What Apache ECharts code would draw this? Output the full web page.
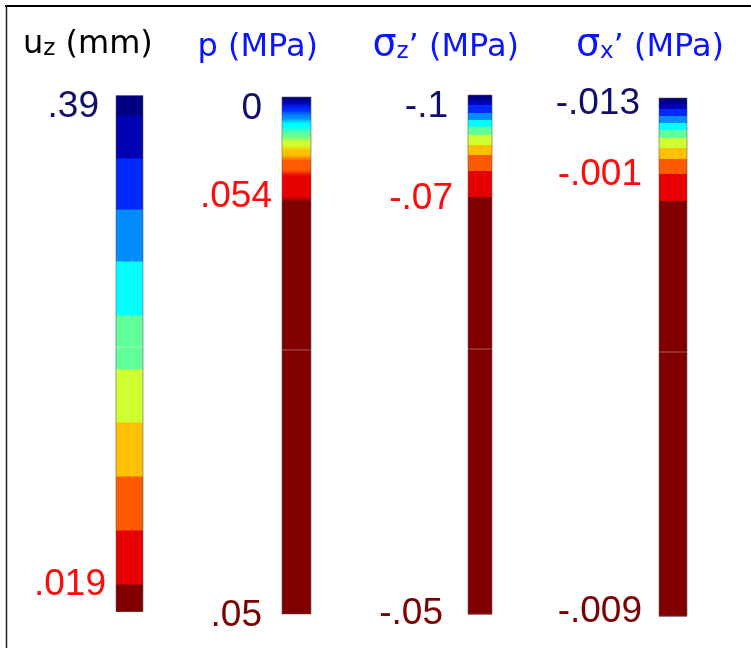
<!DOCTYPE html>
<html><head><meta charset="utf-8">
<script src="https://cdn.jsdelivr.net/npm/echarts@6/dist/echarts.min.js"></script>
<style>html,body{margin:0;padding:0;background:#fff}#c{width:751px;height:648px}</style>
</head><body><div id="c"></div><script>
// ---- data ----
const bandColors = ['#000080','#0000b4','#0028ff','#008cff','#00ffff','#60ff98','#d0ff30','#ffc000','#ff5a00','#e80000','#800000'];
// colour-band heights along each bar (top -> bottom)
const uzBands = [20,43,51,52,54,54,53,54,54,54,27];
const pBands  = [4,4,8,8,9,9,9,10,15,26,415];
const szBands = [5,5,8,7,7,8,10,10,16,26,417];
const sxBands = [6,5,7,7,7,8,10,11,15,27,415];
// tick labels and where they sit along each bar
const uzTickText = ['.39','.019'];
const uzTickPos  = [11.5, 489.5];
const uzTickTone = ['top','mid'];
const pTickText  = ['0','.054','.05'];
const pTickPos   = [12, 100, 519];
const pTickTone  = ['top','mid','bot'];
const szTickText = ['-.1','-.07','-.05'];
const szTickPos  = [12, 103.5, 519];
const szTickTone = ['top','mid','bot'];
const sxTickText = ['-.013','-.001','-.009'];
const sxTickPos  = [5.5, 77, 514];
const sxTickTone = ['top','mid','bot'];
// faint seams across the bars
const seamPos = [251.5, 253, 254, 254];

// ---- styles / layout ----
const toneColor = {top:'#10106c', mid:'#ff0b0b', bot:'#7b0000'};
const bars = [
  {bands:uzBands, text:uzTickText, pos:uzTickPos, tone:uzTickTone, gaps:[17,10],    grid:{left:116, top:95.5, width:27, height:516}, smooth:false},
  {bands:pBands,  text:pTickText,  pos:pTickPos,  tone:pTickTone,  gaps:[20,10,20], grid:{left:282, top:97,   width:29, height:517}, smooth:true},
  {bands:szBands, text:szTickText, pos:szTickPos, tone:szTickTone, gaps:[20,15,25], grid:{left:468, top:95,   width:24, height:519}, smooth:false},
  {bands:sxBands, text:sxTickText, pos:sxTickPos, tone:sxTickTone, gaps:[19,17,17], grid:{left:659, top:98,   width:28, height:518}, smooth:false}
];

const grid = [], xAxis = [], yAxis = [], series = [];
bars.forEach((b, gi) => {
  const total = b.bands.reduce((a, c) => a + c, 0);
  grid.push(Object.assign({containLabel:false}, b.grid));
  xAxis.push({type:'category', gridIndex:gi, data:['bar'], show:false, boundaryGap:true});
  yAxis.push({type:'value', gridIndex:gi, min:0, max:total, inverse:true, show:false});
  // band data
  let acc = 0;
  const bandData = b.bands.map((h, i) => { const d = [0, acc, acc + h, i]; acc += h; return d; });
  if (!b.smooth) {
    series.push({
      type:'custom', xAxisIndex:gi, yAxisIndex:gi, data:bandData, silent:true,
      renderItem(params, api) {
        const p0 = api.coord([0, api.value(1)]);
        const p1 = api.coord([0, api.value(2)]);
        const w = api.size([1, 0])[0];
        return {type:'rect', shape:{x:p0[0]-w/2, y:p0[1], width:w, height:p1[1]-p0[1]+0.5},
                style:{fill:bandColors[api.value(3)]}};
      }
    });
  } else {
    series.push({
      type:'custom', xAxisIndex:gi, yAxisIndex:gi, data:[[0, 0, total]], silent:true,
      renderItem(params, api) {
        const p0 = api.coord([0, api.value(1)]);
        const p1 = api.coord([0, api.value(2)]);
        const w = api.size([1, 0])[0];
        const stops = [];
        const blur = 3;
        bandData.forEach(d => {
          const a = Math.min(d[1] + blur, (d[1]+d[2])/2) / total;
          const z = Math.max(d[2] - blur, (d[1]+d[2])/2) / total;
          stops.push({offset:a, color:bandColors[d[3]]});
          stops.push({offset:z, color:bandColors[d[3]]});
        });
        stops[0].offset = 0; stops[stops.length-1].offset = 1;
        return {type:'rect', shape:{x:p0[0]-w/2, y:p0[1], width:w, height:p1[1]-p0[1]},
                style:{fill:new echarts.graphic.LinearGradient(0,0,0,1,stops)}};
      }
    });
  }
  // seam + outline
  series.push({
    type:'custom', xAxisIndex:gi, yAxisIndex:gi, data:[[0, 0, total, seamPos[gi]]], silent:true, z:3,
    renderItem(params, api) {
      const p0 = api.coord([0, api.value(1)]);
      const p1 = api.coord([0, api.value(2)]);
      const ps = api.coord([0, api.value(3)]);
      const w = api.size([1, 0])[0];
      return {type:'group', children:[
        {type:'line', shape:{x1:p0[0]-w/2, y1:ps[1], x2:p0[0]+w/2, y2:ps[1]}, style:{stroke:'rgba(255,255,255,0.35)', lineWidth:1}},
        {type:'rect', shape:{x:p0[0]-w/2, y:p0[1], width:w, height:p1[1]-p0[1]}, style:{fill:'none', stroke:'rgba(90,90,90,0.55)', lineWidth:1}}
      ]};
    }
  });
  // tick labels
  series.push({
    type:'custom', xAxisIndex:gi, yAxisIndex:gi, silent:true, z:4,
    data:b.pos.map((p, i) => [0, p, i]),
    renderItem(params, api) {
      const i = api.value(2);
      const pt = api.coord([0, api.value(1)]);
      const w = api.size([1, 0])[0];
      return {type:'text', x:pt[0]-w/2-b.gaps[i], y:pt[1],
              style:{text:b.text[i], align:'right', verticalAlign:'middle',
                     font:'37px "Liberation Sans", Arial, sans-serif', fill:toneColor[b.tone[i]]}};
    }
  });
});

const titleFont = '"DejaVu Sans", Verdana, sans-serif';
const richBase = (col) => ({
  m:{fontSize:32, lineHeight:32, fontFamily:titleFont, fill:col, verticalAlign:'bottom'},
  g:{fontSize:38, lineHeight:36, fontFamily:titleFont, fill:col, verticalAlign:'bottom'},
  s:{fontSize:23, lineHeight:20, fontFamily:titleFont, fill:col, verticalAlign:'bottom'}
});
const titles = [
  {text:'{m|u}{s|z}{m| (mm)}', x:23, align:'left', col:'#000000', y:29},
  {text:'{m|p (MPa)}', x:318, align:'right', col:'#0a14ff', y:32},
  {text:'{g|σ}{s|z}{m|’ (MPa)}', x:519, align:'right', col:'#0a14ff', y:28},
  {text:'{g|σ}{s|x}{m|’ (MPa)}', x:724, align:'right', col:'#0a14ff', y:28}
];

const chart = echarts.init(document.getElementById('c'), null, {renderer:'canvas'});
chart.setOption({
  animation:false,
  backgroundColor:'#ffffff',
  grid, xAxis, yAxis, series,
  graphic:[
    {type:'line', shape:{x1:5, y1:6, x2:751, y2:6}, style:{stroke:'#000', lineWidth:2}},
    {type:'line', shape:{x1:6.5, y1:5, x2:6.5, y2:648}, style:{stroke:'#222', lineWidth:1.5}}
  ].concat(titles.map(t => ({
    type:'text', x:t.x, y:t.y,
    style:{text:t.text, align:t.align, verticalAlign:'top', rich:richBase(t.col)}
  })))
});
</script></body></html>
